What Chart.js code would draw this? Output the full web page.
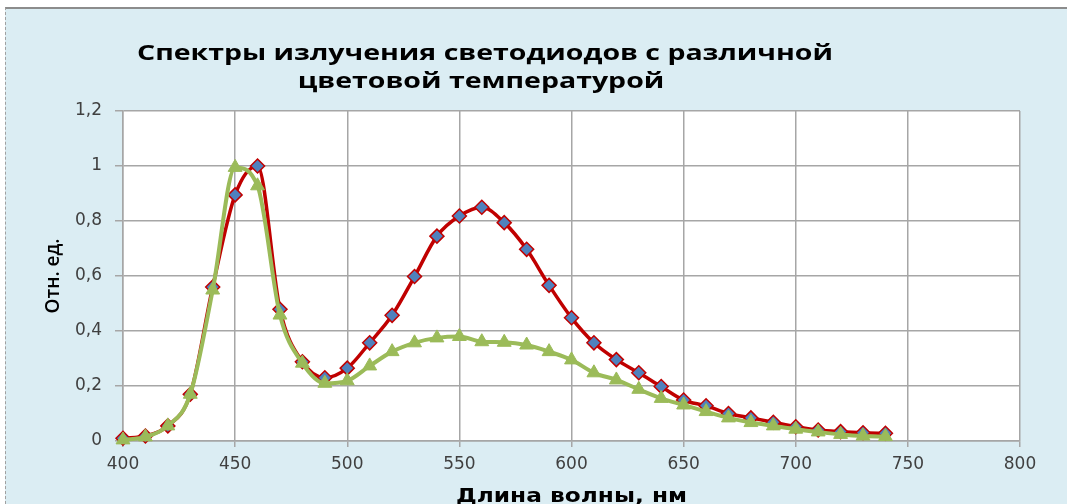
<!DOCTYPE html>
<html>
<head>
<meta charset="utf-8">
<script src="https://cdn.jsdelivr.net/npm/chart.js@4"></script>
<style>
  html, body { margin: 0; padding: 0; background: #fff; }
  #frame {
    position: absolute; left: 5px; top: 7px; width: 1070px; height: 500px;
    background: #dbedf3; border-top: 2px solid #8c8c8c; border-left: 1px dashed #a0a0a0;
  }
  #wrap { position: absolute; left: 0; top: 0; width: 1067px; height: 504px; }
</style>
</head>
<body>
<div id="frame"></div>
<div id="wrap"><canvas id="spectra"></canvas></div>
<script>
const titleLines = ["Спектры излучения светодиодов с различной", "цветовой температурой"];
const xTitle = "Длина волны, нм";
const yTitle = "Отн. ед.";

const wavelengths = [400, 410, 420, 430, 440, 450, 460, 470, 480, 490, 500, 510, 520, 530, 540, 550, 560, 570,
  580, 590, 600, 610, 620, 630, 640, 650, 660, 670, 680, 690, 700, 710, 720, 730, 740];

// warm white LED (red line, diamonds)
const warmValues = [0.01, 0.018, 0.055, 0.17, 0.56, 0.895, 1.0, 0.479, 0.288, 0.23, 0.265, 0.357, 0.457, 0.598, 0.745,
  0.818, 0.85, 0.794, 0.697, 0.566, 0.448, 0.357, 0.296, 0.248, 0.198, 0.149, 0.128, 0.1, 0.084, 0.068,
  0.052, 0.04, 0.034, 0.03, 0.028];

// cold white LED (green line, triangles)
const coldValues = [0.004, 0.015, 0.055, 0.17, 0.549, 0.995, 0.928, 0.458, 0.283, 0.21, 0.219, 0.273, 0.325, 0.357, 0.375,
  0.38, 0.361, 0.359, 0.349, 0.325, 0.295, 0.248, 0.222, 0.188, 0.155, 0.131, 0.107, 0.084, 0.067, 0.055,
  0.043, 0.033, 0.024, 0.018, 0.016];

const xTicks = [400, 450, 500, 550, 600, 650, 700, 750, 800];
const yTicks = [0, 0.2, 0.4, 0.6, 0.8, 1, 1.2];

const toPoints = vals => wavelengths.map((w, i) => ({ x: w, y: vals[i] }));

const plotBackground = {
  id: "plotBackground",
  beforeDraw(chart) {
    const { ctx, chartArea: a } = chart;
    ctx.save();
    ctx.fillStyle = "#ffffff";
    ctx.fillRect(a.left, a.top, a.right - a.left, a.bottom - a.top);
    ctx.restore();
  }
};

// text in the original is a bit wider than our fonts, so squeeze it horizontally to the target width
function stretchedText(ctx, text, cx, baseline, sx) {
  ctx.save();
  ctx.translate(cx, baseline);
  ctx.scale(sx, 1);
  ctx.fillText(text, 0, 0);
  ctx.restore();
}

const titleDrawer = {
  id: "titleDrawer",
  afterDraw(chart) {
    const ctx = chart.ctx;
    const a = chart.chartArea;
    ctx.save();
    ctx.fillStyle = "#000";
    ctx.textAlign = "center";
    ctx.textBaseline = "alphabetic";

    ctx.font = "bold 22px 'Open Sans'";
    const sx = 696 / ctx.measureText(titleLines[0]).width;
    stretchedText(ctx, titleLines[0], 485, 60, sx);
    stretchedText(ctx, titleLines[1], 481, 88, sx);

    ctx.font = "bold 20px 'DejaVu Sans'";
    const sx2 = 231 / ctx.measureText(xTitle).width;
    stretchedText(ctx, xTitle, (a.left + a.right) / 2, 502, sx2);
    ctx.restore();
  }
};

new Chart(document.getElementById("spectra"), {
  type: "line",
  data: {
    datasets: [
      {
        label: "cold",
        data: toPoints(coldValues),
        borderColor: "#9bbb59",
        backgroundColor: "#9bbb59",
        borderWidth: 4,
        cubicInterpolationMode: "monotone",
        pointStyle: "triangle",
        pointRadius: 8,
        pointBorderWidth: 1,
        pointBorderColor: "#9bbb59",
        pointBackgroundColor: "#9bbb59",
        clip: false,
        order: 0
      },
      {
        label: "warm",
        data: toPoints(warmValues),
        borderColor: "#c00000",
        backgroundColor: "#4f81bd",
        borderWidth: 3.5,
        cubicInterpolationMode: "monotone",
        pointStyle: "rectRot",
        pointRadius: 7,
        pointBorderWidth: 1.5,
        pointBorderColor: "#c00000",
        pointBackgroundColor: "#4f81bd",
        clip: false,
        order: 1
      }
    ]
  },
  options: {
    responsive: true,
    maintainAspectRatio: false,
    animation: false,
    layout: { padding: { left: 0, right: 47, top: 111, bottom: 0 } },
    plugins: {
      legend: { display: false },
      tooltip: { enabled: false }
    },
    scales: {
      x: {
        type: "linear",
        min: 400,
        max: 800,
        afterBuildTicks: s => { s.ticks = xTicks.map(v => ({ value: v })); },
        afterFit: s => { s.height = 63; },
        ticks: { color: "#404040", font: { family: "DejaVu Sans", size: 17 }, padding: 7, maxRotation: 0 },
        grid: { color: "#a6a6a6", lineWidth: 1.5, tickLength: 6 },
        border: { color: "#a6a6a6", width: 1.5 }
      },
      y: {
        min: 0,
        max: 1.2,
        afterBuildTicks: s => { s.ticks = yTicks.map(v => ({ value: v })); },
        afterFit: s => { s.width = 123; },
        ticks: {
          color: "#404040", font: { family: "DejaVu Sans", size: 17 }, padding: 13,
          callback: v => String(Math.round(v * 10) / 10).replace(".", ",")
        },
        grid: { color: "#a6a6a6", lineWidth: 1.5, tickLength: 8 },
        border: { color: "#a6a6a6", width: 1.5 },
        title: {
          display: true, text: yTitle, color: "#000",
          font: { family: "Open Sans", size: 19, weight: "600", lineHeight: 1.2 },
          padding: { top: 42, bottom: 0 }
        }
      }
    }
  },
  plugins: [plotBackground, titleDrawer]
});
</script>
</body>
</html>
